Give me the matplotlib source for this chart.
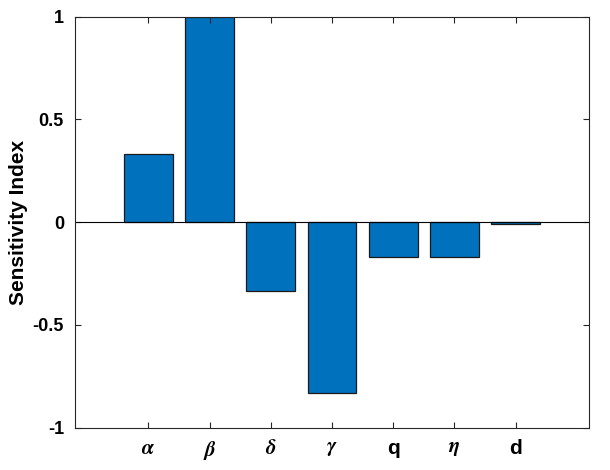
import numpy as np
import matplotlib
matplotlib.use('Agg')
import matplotlib.pyplot as plt

# sensitivity indices
params = [r'$\boldsymbol{\alpha}$', r'$\boldsymbol{\beta}$', r'$\boldsymbol{\delta}$',
          r'$\boldsymbol{\gamma}$', 'q', r'$\boldsymbol{\eta}$', 'd']
sens_index = [0.333, 1.0, -0.333, -0.830, -0.167, -0.167, -0.01]
yticks = [-1, -0.5, 0, 0.5, 1]
ytick_labels = ['-1', '-0.5', '0', '0.5', '1']

plt.rcParams['font.family'] = ['Liberation Sans', 'DejaVu Sans']
plt.rcParams['mathtext.fontset'] = 'stix'

fig = plt.figure(figsize=(6.1, 4.7), dpi=100)
ax = fig.add_axes([0.123, 0.09, 0.8426, 0.8745])

x = np.arange(1, len(sens_index) + 1)
ax.bar(x, sens_index, width=0.8, color='#0072BD', edgecolor='#1a1a1a', linewidth=0.9)
ax.axhline(0, color='black', linewidth=0.8)

ax.set_xlim(-0.2, 8.2)
ax.set_ylim(-1, 1)
ax.set_xticks(x)
ax.set_xticklabels(params, fontsize=15, fontweight='bold')
ax.set_yticks(yticks)
ax.set_yticklabels(ytick_labels, fontsize=13, fontweight='bold')
ax.set_ylabel('Sensitivity Index', fontsize=15, fontweight='bold', labelpad=3)

ax.tick_params(direction='in', top=True, right=True, length=4, width=0.8,
               colors='#262626', pad=8)
for lbl in ax.get_xticklabels() + ax.get_yticklabels():
    lbl.set_color('black')
for s in ax.spines.values():
    s.set_color('#262626')
    s.set_linewidth(0.8)

fig.savefig('out.png', dpi=100)
